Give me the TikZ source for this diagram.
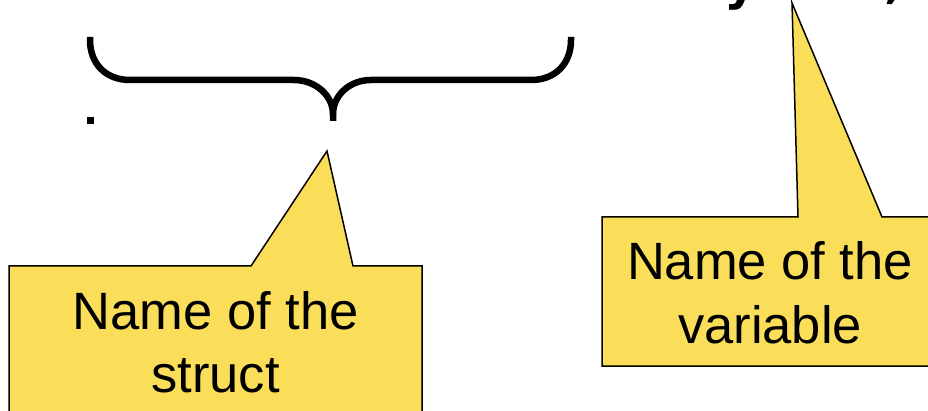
\documentclass[tikz,border=0pt]{standalone}
\usepackage{fontspec}
\setmainfont{Liberation Sans}
\newfontfamily\codefont{DejaVu Sans}
\definecolor{calloutyellow}{RGB}{250,222,90}
\tikzset{
  callout/.style={fill=calloutyellow, draw=black, line width=1.5pt, line join=miter},
  calltext/.style={anchor=base, inner sep=0pt, font=\fontsize{52.5}{63}\selectfont},
  bracestroke/.style={draw=black, line width=6.5pt, line cap=butt, line join=round},
  codetext/.style={anchor=base west, inner sep=0pt, font=\codefont\bfseries\fontsize{50}{60}\selectfont}
}
\begin{document}
\begin{tikzpicture}[x=1pt,y=-1pt]
\useasboundingbox (0,0) rectangle (928,411);
\fill[white] (0,0) rectangle (928,411);

% fragments of the code line above (cut off at the top)
\node[codetext] (codey) at (724,0) {y};
\node[codetext] (codecomma) at (884,-2) {,};

% brace
\coordinate (bl) at (90,37);
\coordinate (br) at (571,37);
\coordinate (tip) at (333,121);
\draw[bracestroke] (bl) -- (90,40) .. controls (90,64) and (106,80) .. (130,80)
  -- (294,80) .. controls (316,80) and (333,96) .. (333,114) -- (tip);
\draw[bracestroke] (br) -- (571,40) .. controls (571,64) and (555,80) .. (531,80)
  -- (371,80) .. controls (349,80) and (333,96) .. (333,114);

% dot
\fill[black] (87,117) rectangle (94,124);

% left callout
\draw[callout] (9,266) -- (251,266) -- (327,151) -- (353,266) -- (422,266)
  -- (422,418) -- (9,418) -- cycle;
\node[calltext] (s1) at (215.5,330) {Name of the};
\node[calltext] (s2) at (215.5,392) {struct};

% right callout
\draw[callout] (602,217) -- (798,217) -- (792,3) -- (882,217) -- (940,217)
  -- (940,366) -- (602,366) -- cycle;
\node[calltext] (v1) at (770,280) {Name of the};
\node[calltext] (v2) at (770,343) {variable};
\end{tikzpicture}
\end{document}
